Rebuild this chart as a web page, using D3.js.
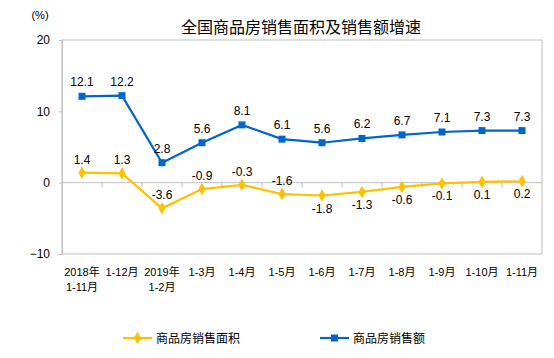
<!DOCTYPE html>
<html><head><meta charset="utf-8">
<script src="https://cdn.jsdelivr.net/npm/d3@7"></script>
<style>body{margin:0;background:#fff}svg{display:block}</style>
</head><body>
<script>
const categories = [["2018年","1-11月"],["1-12月"],["2019年","1-2月"],["1-3月"],["1-4月"],["1-5月"],["1-6月"],["1-7月"],["1-8月"],["1-9月"],["1-10月"],["1-11月"]];
const areaGrowth = [1.4,1.3,-3.6,-0.9,-0.3,-1.6,-1.8,-1.3,-0.6,-0.1,0.1,0.2];
const salesGrowth = [12.1,12.2,2.8,5.6,8.1,6.1,5.6,6.2,6.7,7.1,7.3,7.3];
const areaLabelAbove = [true,true,true,true,true,true,false,false,false,false,false,false];
const yTicks = [-10,0,10,20];
const seriesNames = ["商品房销售面积","商品房销售额"];
const title = "全国商品房销售面积及销售额增速";

const W=554,H=358;
const L=62,R=542,T=40,B=254;
const yellow="#ffc000", blue="#0066cc";
const font="'Liberation Sans', Arial, 'Noto Sans CJK SC', sans-serif";
const svg=d3.select("body").append("svg").attr("width",W).attr("height",H).style("font-family",font);
const x=d3.scaleBand().domain(d3.range(categories.length)).range([L,R]);
const y=d3.scaleLinear().domain([-10,20]).range([B,T]);
const cx=i=>x(i)+x.bandwidth()/2;

svg.append("text").attr("x",301).attr("y",33).attr("text-anchor","middle").attr("font-size",16).attr("fill","#000").text(title);
svg.append("text").attr("x",40).attr("y",19).attr("text-anchor","middle").attr("font-size",11).attr("fill","#000").text("(%)");

// plot border
svg.append("rect").attr("x",L).attr("y",T).attr("width",R-L).attr("height",B-T).attr("fill","none").attr("stroke","#bfbfbf").attr("stroke-width",1);

// y axis
const ya=svg.append("g").attr("transform",`translate(${L},0)`).call(d3.axisLeft(y).tickValues(yTicks).tickSize(3).tickPadding(9).tickFormat(d3.format("d")));
ya.select(".domain").attr("stroke","#bfbfbf");
ya.selectAll(".tick line").attr("stroke","#bfbfbf");
ya.selectAll("text").attr("font-size",12).attr("fill","#000").attr("font-family",font);

// zero axis with category ticks
const za=svg.append("g").attr("transform",`translate(0,${y(0)})`);
za.append("line").attr("x1",L).attr("x2",R).attr("stroke","#bfbfbf");
za.selectAll("line.t").data(d3.range(1,categories.length)).join("line").attr("class","t")
  .attr("x1",i=>x(i)).attr("x2",i=>x(i)).attr("y1",0).attr("y2",5).attr("stroke","#bfbfbf");

// x labels
const xl=svg.append("g");
categories.forEach((lines,i)=>{
  lines.forEach((s,j)=>{
    xl.append("text").attr("x",cx(i)).attr("y",276+j*15).attr("text-anchor","middle").attr("font-size",11).attr("fill","#000").text(s);
  });
});

const line=d3.line().x((d,i)=>cx(i)).y(d=>y(d));
// sales line
svg.append("path").datum(salesGrowth).attr("d",line).attr("fill","none").attr("stroke",blue).attr("stroke-width",2.2);
svg.selectAll("rect.sm").data(salesGrowth).join("rect").attr("class","sm")
  .attr("x",(d,i)=>cx(i)-3.5).attr("y",d=>y(d)-3.5).attr("width",7).attr("height",7).attr("fill",blue);
svg.selectAll("text.sl").data(salesGrowth).join("text").attr("class","sl")
  .attr("x",(d,i)=>cx(i)).attr("y",d=>y(d)-10).attr("text-anchor","middle").attr("font-size",12).attr("fill","#000").text(d=>d.toFixed(1));

// area line
svg.append("path").datum(areaGrowth).attr("d",line).attr("fill","none").attr("stroke",yellow).attr("stroke-width",2.2);
const diamond=d3.symbol().type(d3.symbolDiamond).size(45);
svg.selectAll("path.am").data(areaGrowth).join("path").attr("class","am")
  .attr("d",diamond).attr("transform",(d,i)=>`translate(${cx(i)},${y(d)})`).attr("fill",yellow);
svg.selectAll("text.al").data(areaGrowth).join("text").attr("class","al")
  .attr("x",(d,i)=>cx(i)).attr("y",(d,i)=>areaLabelAbove[i]?y(d)-9:y(d)+17).attr("text-anchor","middle").attr("font-size",12).attr("fill","#000").text(d=>d.toFixed(1));

// legend
const leg=[{x:123,c:yellow,n:seriesNames[0],m:"d"},{x:320,c:blue,n:seriesNames[1],m:"s"}];
leg.forEach(l=>{
  const g=svg.append("g").attr("transform",`translate(${l.x},338)`);
  g.append("line").attr("x1",0).attr("x2",29).attr("stroke",l.c).attr("stroke-width",2.2);
  if(l.m==="d") g.append("path").attr("d",diamond).attr("transform","translate(14.5,0)").attr("fill",l.c);
  else g.append("rect").attr("x",11).attr("y",-3.5).attr("width",7).attr("height",7).attr("fill",l.c);
  g.append("text").attr("x",33).attr("y",4.5).attr("font-size",12).attr("fill","#000").text(l.n);
});
</script>
</body></html>
